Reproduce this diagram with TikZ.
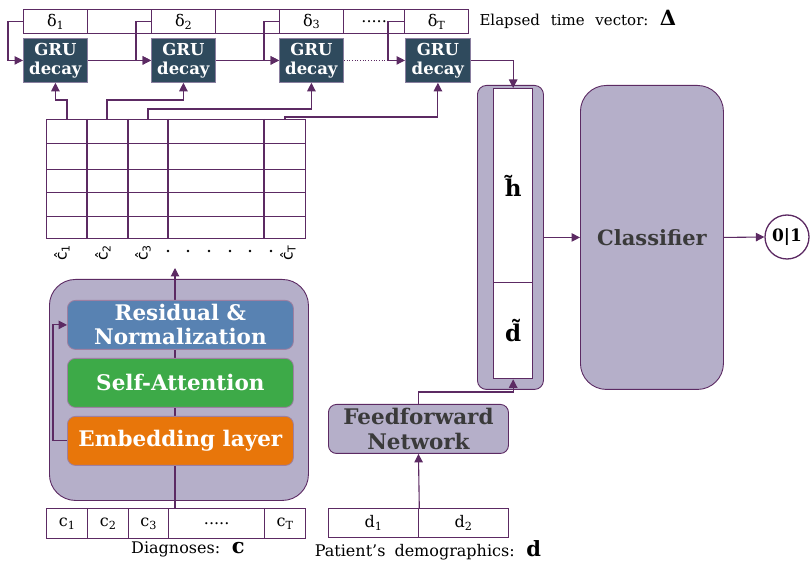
\documentclass[tikz,border=0pt]{standalone}
\usepackage{fontspec}
\setmainfont{DejaVu Serif}
\setsansfont{DejaVu Sans}
\usetikzlibrary{arrows.meta}

\definecolor{wire}{HTML}{5C2A63}
\definecolor{lav}{HTML}{B5AFC9}
\definecolor{slate}{HTML}{2F4A5D}
\definecolor{gruedge}{HTML}{8A7FA0}
\definecolor{resblue}{HTML}{5882B2}
\definecolor{attgreen}{HTML}{3DAA48}
\definecolor{embor}{HTML}{E8760A}
\definecolor{ink}{HTML}{3A3A3A}

\begin{document}
\begin{tikzpicture}[x=1pt,y=-1pt,
  font=\fontsize{16}{19}\selectfont,
  wire/.style={draw=wire, line width=1.1pt},
  arr/.style={wire, -{Triangle[length=8.5pt,width=8.5pt]}},
  cell/.style={draw=wire, line width=1.3pt, fill=white, inner sep=0pt,
    anchor=north west, minimum height=24pt},
  ccell/.style={cell, minimum height=30pt},
  grubox/.style={draw=gruedge, line width=0.8pt, fill=slate, text=white,
    inner sep=0pt, anchor=north west, minimum width=64pt, minimum height=44pt,
    align=center, font=\fontsize{16.5}{19}\selectfont\bfseries},
  layerbox/.style={draw=wire!60, line width=0.8pt, rounded corners=8pt,
    text=white, anchor=north west, minimum width=226pt, minimum height=49pt,
    inner sep=0pt, align=center, font=\fontsize{21.5}{24}\selectfont\bfseries},
  lavbox/.style={draw=wire, line width=0.9pt, fill=lav, inner sep=0pt,
    anchor=north west},
  bigtext/.style={text=ink, align=center, font=\fontsize{21.5}{25}\selectfont\bfseries},
  hatlabel/.style={rotate=90, font=\sffamily\fontsize{15.5}{17}\selectfont}]

\useasboundingbox (0,0) rectangle (812,561);

% elapsed time vector
\node[cell, minimum width=64pt] (dl1) at (23,9) {δ\textsubscript{1}};
\node[cell, minimum width=64pt] (dg1) at (87,9) {};
\node[cell, minimum width=64pt] (dl2) at (151,9) {δ\textsubscript{2}};
\node[cell, minimum width=64pt] (dg2) at (215,9) {};
\node[cell, minimum width=64pt] (dl3) at (279,9) {δ\textsubscript{3}};
\node[cell, minimum width=61pt] (ddots) at (343,9) {.....};
\node[cell, minimum width=64pt] (dlT) at (404,9) {δ\textsubscript{T}};
\node[anchor=west, font=\fontsize{15}{18}\selectfont] (dtitle) at (476,19)
  {Elapsed\hspace{6pt} time\hspace{6pt} vector:\hspace{5pt} {\fontsize{21}{21}\selectfont\bfseries Δ}};

% GRU decay cells
\node[grubox] (gru1) at (23,38) {GRU\\decay};
\node[grubox] (gru2) at (151,38) {GRU\\decay};
\node[grubox] (gru3) at (279,38) {GRU\\decay};
\node[grubox, minimum width=65pt] (gru4) at (405,38) {GRU\\decay};

\draw[arr] (dl1.west) -- ++(-15,0) |- (gru1.west);
\draw[arr] (dl2.west) -- ++(-15,0) |- (gru2.west);
\draw[arr] (dl3.west) -- ++(-15,0) |- (gru3.west);
\draw[arr] (dlT.west) -- ++(-16,0) coordinate (kT) |- (gru4.west);
\draw[arr] (gru1.east) -- (gru2.west);
\draw[arr] (gru2.east) -- (gru3.west);
\draw[wire, line width=0.7pt, dotted] (gru3.east) -- (kT |- gru4.west);

% embedded visit matrix
\node[draw=wire, line width=1.3pt, fill=white, anchor=north west,
  minimum width=259pt, minimum height=119pt, inner sep=0pt] (tab) at (46,119) {};
\foreach \x in {87,128,168,264}
  \draw[wire, line width=1.2pt] (\x,119) -- (\x,238);
\foreach \y in {143,169,192,216}
  \draw[wire, line width=0.9pt] (46,\y) -- (305,\y);

\coordinate (t1) at (67,119);
\coordinate (t2) at (107,119);
\coordinate (t3) at (148,119);
\coordinate (t4) at (285,119);
\draw[arr] (t1) -- ++(0,-19) -| (gru1.south);
\draw[arr] (t2) -- ++(0,-19) -| (gru2.south);
\draw[arr] (t3) -- ++(0,-10) -| (gru3.south);
\draw[arr] (t4) -- ++(0,-2) -| (gru4.south);

\node[hatlabel] (h1) at (62,253) {ĉ\textsubscript{1}};
\node[hatlabel] (h2) at (103,253) {ĉ\textsubscript{2}};
\node[hatlabel] (h3) at (143,253) {ĉ\textsubscript{3}};
\node[hatlabel] (hT) at (288,253) {ĉ\textsubscript{T}};
\foreach \x in {168,188,209,230,250,271}
  \fill[black] (\x,251) circle (1.3pt);

% visit encoder
\node[lavbox, rounded corners=26pt, minimum width=259pt, minimum height=221pt] (enc) at (49,279) {};
\coordinate (cin) at (175,508);
\coordinate (cout) at (175,268);
\draw[arr] (cin) -- (cout);
\node[layerbox, fill=resblue] (res) at (67,300) {Residual \&\\Normalization};
\node[layerbox, fill=attgreen] (att) at (67,358) {Self-Attention};
\node[layerbox, fill=embor] (embl) at (67,416) {Embedding layer};
\draw[arr] (embl.west) -- ++(-14,0) |- (res.west);

% diagnosis codes
\node[ccell, minimum width=41pt] (c1) at (46,508) {c\textsubscript{1}};
\node[ccell, minimum width=41pt] (c2) at (87,508) {c\textsubscript{2}};
\node[ccell, minimum width=40pt] (c3) at (128,508) {c\textsubscript{3}};
\node[ccell, minimum width=96pt] (cdots) at (168,508) {.....};
\node[ccell, minimum width=41pt] (cT) at (264,508) {c\textsubscript{T}};
\node (ctitle) at (188,549) {Diagnoses:\hspace{5pt} {\fontsize{21}{21}\selectfont\bfseries c}};

% demographics
\node[ccell, minimum width=90pt, minimum height=29pt] (dd1) at (328,508) {d\textsubscript{1}};
\node[ccell, minimum width=90pt, minimum height=29pt] (dd2) at (418,508) {d\textsubscript{2}};
\node (dtitle2) at (428,550) {Patient’s\hspace{4pt} demographics:\hspace{5pt} {\fontsize{21}{21}\selectfont\bfseries d}};

\node[lavbox, rounded corners=8pt, minimum width=180pt, minimum height=49pt] (ffn) at (328,404) {};
\node[bigtext] at (ffn.center) {Feedforward\\Network};
\draw[arr] (dd1.north east) -- (ffn.south);

% concatenated representation
\node[lavbox, rounded corners=9pt, minimum width=66pt, minimum height=304pt] (cat) at (477,85) {};
\node[draw=wire, line width=1.3pt, fill=white, anchor=north west,
  minimum width=39pt, minimum height=194pt, inner sep=0pt] (hv) at (493,88)
  {\fontsize{23}{23}\selectfont\bfseries \~{h}};
\node[draw=wire, line width=1.3pt, fill=white, anchor=north west,
  minimum width=39pt, minimum height=96pt, inner sep=0pt] (dv) at (493,282)
  {\fontsize{23}{23}\selectfont\bfseries \~{d}};
\draw[arr] (gru4.east) -| (hv.north);
\draw[arr] (ffn.north) -- ++(0,-12) -| (dv.south);

% classifier and output
\node[lavbox, rounded corners=26pt, minimum width=143pt, minimum height=304pt] (cls) at (580,85) {};
\node[bigtext, font=\fontsize{21}{25}\selectfont\bfseries] at (cls.center) {Classifier};
\node[circle, draw=wire, line width=1.3pt, fill=white, minimum size=44pt,
  inner sep=0pt, font=\fontsize{17}{17}\selectfont\bfseries] (out) at (787,237) {0|1};
\draw[arr] (cat.east) -- (cls.west);
\draw[arr] (cls.east) -- (out.west);

\end{tikzpicture}
\end{document}
